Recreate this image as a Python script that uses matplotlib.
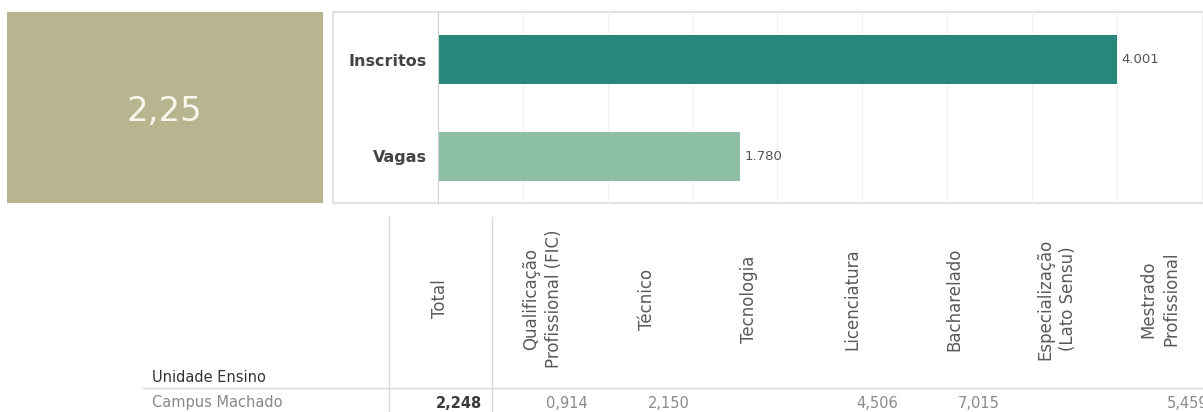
import matplotlib.pyplot as plt
from matplotlib.patches import Rectangle

# data
kpi_text = "2,25"
bar_labels = ["Inscritos", "Vagas"]
bar_values = [4001, 1780]
bar_value_text = ["4.001", "1.780"]

row_header = "Unidade Ensino"
row_name = "Campus Machado"
columns = ["Total", "Qualificação\nProfissional (FIC)", "Técnico", "Tecnologia",
           "Licenciatura", "Bacharelado", "Especialização\n(Lato Sensu)",
           "Mestrado\nProfissional"]
row_values = ["2,248", "0,914", "2,150", "", "4,506", "7,015", "", "5,459"]

W, H = 1203, 412
fig = plt.figure(figsize=(W / 100, H / 100), dpi=100)
fig.patch.set_facecolor("white")

# overlay in pixel coordinates
ov = fig.add_axes([0, 0, 1, 1])
ov.set_xlim(0, W)
ov.set_ylim(H, 0)
ov.axis("off")

# KPI box
ov.add_patch(Rectangle((7, 12), 316, 191, facecolor="#b6b58f", edgecolor="none"))
ov.text(164, 111, kpi_text, color="#f7f5ea", fontsize=24.5, ha="center", va="center")

# bar panel frame
ov.add_patch(Rectangle((333, 12), W - 333 + 5, 191, facecolor="white",
                       edgecolor="#dcdcdc", lw=1.2, zorder=0))

# bar chart
ax = fig.add_axes([438 / W, (H - 203) / H, (W - 438) / W, 191 / H])
ax.set_facecolor("none")
y = list(range(len(bar_labels)))
ax.barh(y, bar_values, height=0.505, color=["#27877b", "#8dbfa6"], zorder=2)
ax.set_ylim(1.48, -0.49)
ax.set_xlim(0, (W - 438) / ((1117 - 438) / 4001))
ax.set_xticks(range(500, 4600, 500))
ax.grid(axis="x", color="#f0f0f0", lw=0.8, zorder=0)
ax.tick_params(axis="x", length=0, labelbottom=False)
ax.tick_params(axis="y", length=0, pad=8)
ax.set_yticks(y)
ax.set_yticklabels(bar_labels, fontsize=11.5, color="#444444", fontweight="bold")
for s in ["top", "right", "bottom"]:
    ax.spines[s].set_visible(False)
ax.spines["left"].set_color("#d0d0d0")
for yi, v, t in zip(y, bar_values, bar_value_text):
    ax.text(v + 25, yi, t, va="center", ha="left", fontsize=9.5, color="#555555")

# table
line_c = "#d9d9d9"
ov.plot([143, W], [388, 388], color=line_c, lw=1)
for x in [389, 492]:
    ov.plot([x, x], [217, H], color=line_c, lw=1)

col_right = [482, 588, 690, 793, 898, 1000, 1102, 1208]
col_center = [440, 543, 647, 749, 852, 954, 1057, 1160]
for cx, name in zip(col_center, columns):
    ov.text(cx, 299, name, rotation=90, ha="center", va="center",
            rotation_mode="anchor", multialignment="center", fontsize=12,
            color="#5a5a5a", linespacing=1.35)
for i, (xr, v) in enumerate(zip(col_right, row_values)):
    if v:
        ov.text(xr, 403, v, ha="right", va="center", fontsize=10.5,
                color="#3a3a3a" if i == 0 else "#8a8a8a",
                fontweight="bold" if i == 0 else "normal")

ov.text(152, 377, row_header, ha="left", va="center", fontsize=10.5, color="#333333")
ov.text(152, 403, row_name, ha="left", va="center", fontsize=10.5, color="#888888")

fig.savefig("out.png", dpi=100)
